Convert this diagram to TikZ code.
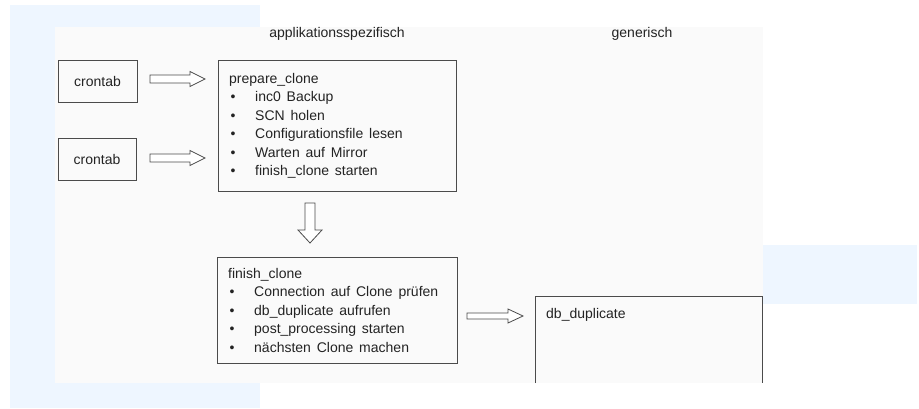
\documentclass[tikz,border=0pt]{standalone}
\usepackage{fontspec}
\setmainfont{Liberation Sans}[WordSpace=1.5]
\usetikzlibrary{calc}
\definecolor{bgblue}{RGB}{238,246,255}
\definecolor{scanbg}{RGB}{250,250,250}
\definecolor{linegray}{RGB}{75,75,75}
\definecolor{textgray}{RGB}{35,35,35}
\newcommand{\bulitem}{\makebox[26pt][l]{\hspace{1.5pt}\textbullet}}
\begin{document}
\begin{tikzpicture}[x=1pt,y=-1pt,
  box/.style={draw=linegray,line width=0.9pt,rectangle,inner sep=0pt,outer sep=0pt},
  lbl/.style={text=textgray,font=\fontsize{14}{18.5}\selectfont,inner sep=0pt},
  listtext/.style={lbl,align=left,anchor=north west},
  blockarrow/.style={draw=linegray,line width=0.8pt,fill=white,line join=miter},
]
\useasboundingbox (0,0) rectangle (919,409);
% backgrounds
\fill[bgblue] (10,5) rectangle (260,408);
\fill[bgblue] (763,245) rectangle (917,304);
\fill[scanbg] (55,27) rectangle (763,383);

% headers
\node[lbl] (h1) at (337,34) {applikationsspezifisch};
\node[lbl] (h2) at (642,34) {generisch};

% boxes
\node[box,minimum width=79,minimum height=42] (c1) at (97.5,81) {};
\node[lbl] (c1t) at (c1) {crontab};
\node[box,minimum width=78,minimum height=42] (c2) at (97,159) {};
\node[lbl] (c2t) at (c2) {crontab};

\node[box,minimum width=238,minimum height=131] (prep) at (337,125.5) {};
\node[listtext] (prept) at ($(prep.north west)+(11,13)$) {prepare\_clone\\
\bulitem inc0 Backup\\
\bulitem SCN holen\\
\bulitem Configurationsfile lesen\\
\bulitem Warten auf Mirror\\
\bulitem finish\_clone starten};

\node[box,minimum width=240,minimum height=106] (finish) at (337,310) {};
\node[listtext] (finisht) at ($(finish.north west)+(11,11)$) {finish\_clone\\
\bulitem Connection auf Clone prüfen\\
\bulitem db\_duplicate aufrufen\\
\bulitem post\_processing starten\\
\bulitem nächsten Clone machen};

\node[rectangle,inner sep=0pt,outer sep=0pt,minimum width=227,minimum height=87] (db) at (648.5,339.5) {};
\draw[draw=linegray,line width=0.9pt] (db.south west) -- (db.north west) -- (db.north east) -- (db.south east);
\node[lbl,anchor=north west] (dbt) at ($(db.north west)+(11,12)$) {db\_duplicate};

% block arrows (hollow)
\draw[blockarrow] ([shift={(13,-2)}]c1.east) ++(0,-4) -- ++(40,0) -- ++(0,-3.5) -- ++(15,7.5)
  -- ++(-15,7.5) -- ++(0,-3.5) -- ++(-40,0) -- cycle;
\draw[blockarrow] ([shift={(14,-1)}]c2.east) ++(0,-4) -- ++(40,0) -- ++(0,-3.5) -- ++(15,7.5)
  -- ++(-15,7.5) -- ++(0,-3.5) -- ++(-40,0) -- cycle;
\draw[blockarrow] ([shift={(-32,12)}]prep.south) -- ++(10,0) -- ++(0,27) -- ++(7,0) -- ++(-12,13)
  -- ++(-12,-13) -- ++(7,0) -- cycle;
\draw[blockarrow] ([shift={(10,6)}]finish.east) ++(0,-3) -- ++(41,0) -- ++(0,-4) -- ++(15,7)
  -- ++(-15,7) -- ++(0,-4) -- ++(-41,0) -- cycle;
\end{tikzpicture}
\end{document}
